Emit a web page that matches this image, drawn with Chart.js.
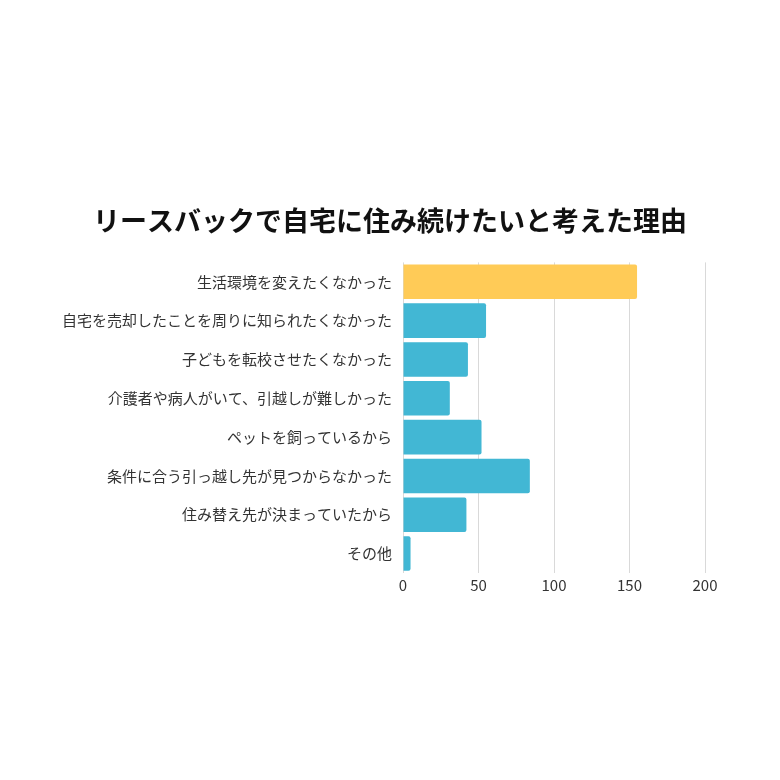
<!DOCTYPE html>
<html>
<head>
<meta charset="utf-8">
<script src="https://cdn.jsdelivr.net/npm/chart.js@4"></script>
<style>
  html, body { margin: 0; padding: 0; background: #fff; }
  #wrap { width: 780px; height: 780px; }
</style>
</head>
<body>
<div id="wrap"><canvas id="reasonChart" width="780" height="780"></canvas></div>
<script>
var titleText = 'リースバックで自宅に住み続けたいと考えた理由';
var categories = [
  '生活環境を変えたくなかった',
  '自宅を売却したことを周りに知られたくなかった',
  '子どもを転校させたくなかった',
  '介護者や病人がいて、引越しが難しかった',
  'ペットを飼っているから',
  '条件に合う引っ越し先が見つからなかった',
  '住み替え先が決まっていたから',
  'その他'
];
var counts = [155, 55, 43, 31, 52, 84, 42, 5];
var tickValues = [0, 50, 100, 150, 200];

var yellow = '#FFCB57';
var blue = '#42B7D4';
// top answer is highlighted
var barColors = counts.map(function(v, i){ return i === 0 ? yellow : blue; });

var fontFamily = '"Noto Sans CJK JP", "Noto Sans", sans-serif';

function drawChart(){
  var ctx = document.getElementById('reasonChart').getContext('2d');
  new Chart(ctx, {
    type: 'bar',
    data: {
      labels: categories,
      datasets: [{
        data: counts,
        backgroundColor: barColors,
        borderWidth: 0,
        borderRadius: 2,
        borderSkipped: 'start',
        barPercentage: 0.89,
        categoryPercentage: 1
      }]
    },
    options: {
      indexAxis: 'y',
      responsive: false,
      animation: false,
      devicePixelRatio: 1,
      layout: {
        padding: { top: 205, right: 20, bottom: 183, left: 20 }
      },
      plugins: {
        legend: { display: false },
        tooltip: { enabled: false },
        title: {
          display: true,
          text: titleText,
          color: '#111',
          font: { family: fontFamily, size: 27, weight: 'bold' },
          padding: { top: 0, bottom: 25 }
        }
      },
      scales: {
        x: {
          min: 0,
          max: 200,
          afterBuildTicks: function(axis){
            axis.ticks = tickValues.map(function(v){ return { value: v }; });
          },
          border: { display: false },
          grid: { color: '#d9d9d9', lineWidth: 1, drawTicks: false },
          ticks: {
            color: '#333',
            padding: 3,
            font: { family: fontFamily, size: 15 }
          }
        },
        y: {
          // the long labels need more than half the width
          afterFit: function(axis){ axis.width = 383; },
          border: { display: false },
          grid: { display: false, drawTicks: false },
          ticks: {
            color: '#333',
            padding: 11,
            font: { family: fontFamily, size: 15 }
          }
        },
        // empty spacer on the right so the title stays centred on the page
        yRight: {
          type: 'linear',
          position: 'right',
          afterFit: function(axis){ axis.width = 55; },
          border: { display: false },
          grid: { display: false, drawTicks: false },
          ticks: { display: false }
        }
      }
    }
  });
}

if (document.fonts && document.fonts.load) {
  Promise.all([
    document.fonts.load('15px "Noto Sans CJK JP"'),
    document.fonts.load('bold 27px "Noto Sans CJK JP"')
  ]).then(drawChart, drawChart);
} else {
  drawChart();
}
</script>
</body>
</html>
